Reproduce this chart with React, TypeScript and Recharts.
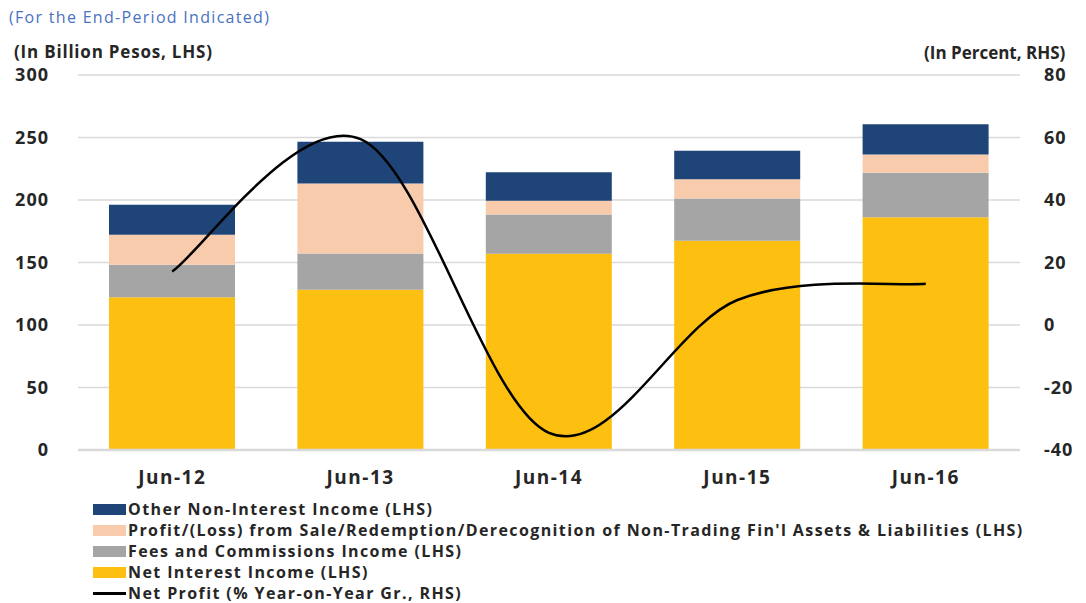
import { ComposedChart, Bar, Line, XAxis, YAxis, CartesianGrid } from 'recharts'

const NAVY = '#1f4477'
const PEACH = '#f8cbad'
const GRAY = '#a5a5a5'
const GOLD = '#fdbf10'
const FONT = '"Open Sans", "DejaVu Sans", sans-serif'
const TEXT = '#262626'

const categories = ['Jun-12', 'Jun-13', 'Jun-14', 'Jun-15', 'Jun-16']
const netInterestIncome = [122.3, 128.2, 157, 167.4, 186.3]
const feesCommissions = [25.9, 29, 31.4, 33.8, 35.5]
const profitFromSale = [24, 56, 11, 15.5, 14.6]
const otherNonInterest = [24, 33.4, 22.9, 22.7, 24.3]
const netProfitGrowth = [17.1, 59.5, -34.5, 8, 13.2]

const leftTicks = [0, 50, 100, 150, 200, 250, 300]
const rightTicks = [-40, -20, 0, 20, 40, 60, 80]

const data = categories.map((cat, i) => ({
  cat,
  nii: netInterestIncome[i],
  fees: feesCommissions[i],
  profit: profitFromSale[i],
  other: otherNonInterest[i],
  growth: netProfitGrowth[i],
}))

const legendItems = [
  { label: 'Other Non-Interest Income (LHS)', color: NAVY, line: false },
  { label: "Profit/(Loss) from Sale/Redemption/Derecognition of Non-Trading Fin'l Assets & Liabilities (LHS)", color: PEACH, line: false },
  { label: 'Fees and Commissions Income (LHS)', color: GRAY, line: false },
  { label: 'Net Interest Income (LHS)', color: GOLD, line: false },
  { label: 'Net Profit (% Year-on-Year Gr., RHS)', color: '#000', line: true },
]

// Excel-style smoothed line (Catmull-Rom through the points)
function excelSmooth(context: any) {
  let pts: [number, number][] = []
  return {
    areaStart() {},
    areaEnd() {},
    lineStart() {
      pts = []
    },
    lineEnd() {
      const n = pts.length
      if (!n) return
      context.moveTo(pts[0][0], pts[0][1])
      for (let i = 0; i < n - 1; i++) {
        const p0 = pts[Math.max(i - 1, 0)]
        const p1 = pts[i]
        const p2 = pts[i + 1]
        const p3 = pts[Math.min(i + 2, n - 1)]
        context.bezierCurveTo(
          p1[0] + (p2[0] - p0[0]) / 6,
          p1[1] + (p2[1] - p0[1]) / 6,
          p2[0] - (p3[0] - p1[0]) / 6,
          p2[1] - (p3[1] - p1[1]) / 6,
          p2[0],
          p2[1]
        )
      }
    },
    point(x: number, y: number) {
      pts.push([x, y])
    },
  }
}

const tickStyle = { fontSize: 18, fontWeight: 700, fill: TEXT, fontFamily: FONT, letterSpacing: 1 }

export default function App() {
  return (
    <div style={{ position: 'absolute', left: 0, top: 0, width: 1086, height: 603, background: '#fff', fontFamily: FONT }}>
      <div style={{ position: 'absolute', left: 9, top: 6, fontSize: 16, letterSpacing: 1.3, color: '#4a72c2', whiteSpace: 'nowrap' }}>
        (For the End-Period Indicated)
      </div>
      <div style={{ position: 'absolute', left: 14, top: 40, fontSize: 17, fontWeight: 700, letterSpacing: 0.8, color: TEXT, whiteSpace: 'nowrap' }}>
        (In Billion Pesos, LHS)
      </div>
      <div style={{ position: 'absolute', left: 924, top: 45, fontSize: 17, lineHeight: '16px', fontWeight: 700, color: TEXT, whiteSpace: 'nowrap' }}>
        (In Percent, RHS)
      </div>

      <ComposedChart width={1086} height={603} data={data} margin={{ top: 75, right: 0, bottom: 123, left: 0 }}>
        <CartesianGrid yAxisId="left" vertical={false} stroke="#d9d9d9" strokeWidth={1.5} />
        <XAxis
          dataKey="cat"
          axisLine={{ stroke: '#d9d9d9', strokeWidth: 2.5 }}
          tickLine={false}
          tickSize={0}
          tickMargin={21}
          tick={{ ...tickStyle, fontSize: 19, letterSpacing: 1.5 }}
        />
        <YAxis
          yAxisId="left"
          domain={[0, 300]}
          ticks={leftTicks}
          width={78}
          axisLine={false}
          tickLine={false}
          tickSize={0}
          tickMargin={29}
          tick={tickStyle}
        />
        <YAxis
          yAxisId="right"
          orientation="right"
          domain={[-40, 80]}
          ticks={rightTicks}
          width={66}
          axisLine={false}
          tickLine={false}
          tickSize={0}
          tickMargin={24}
          tick={tickStyle}
        />
        <Bar yAxisId="left" dataKey="nii" stackId="a" fill={GOLD} barSize={126} isAnimationActive={false} />
        <Bar yAxisId="left" dataKey="fees" stackId="a" fill={GRAY} barSize={126} isAnimationActive={false} />
        <Bar yAxisId="left" dataKey="profit" stackId="a" fill={PEACH} barSize={126} isAnimationActive={false} />
        <Bar yAxisId="left" dataKey="other" stackId="a" fill={NAVY} barSize={126} isAnimationActive={false} />
        <Line
          yAxisId="right"
          dataKey="growth"
          type={excelSmooth as any}
          stroke="#000"
          strokeWidth={2.5}
          dot={false}
          isAnimationActive={false}
        />
      </ComposedChart>

      <div style={{ position: 'absolute', left: 93, top: 499 }}>
        {legendItems.map((item) => (
          <div key={item.label} style={{ display: 'flex', alignItems: 'center', height: 21 }}>
            <span
              style={{
                display: 'inline-block',
                width: 33,
                height: item.line ? 2.5 : 11,
                background: item.color,
                marginRight: 2,
              }}
            />
            <span style={{ fontSize: 16, lineHeight: '21px', fontWeight: 700, letterSpacing: 1.4, color: TEXT, whiteSpace: 'nowrap' }}>
              {item.label}
            </span>
          </div>
        ))}
      </div>
    </div>
  )
}
